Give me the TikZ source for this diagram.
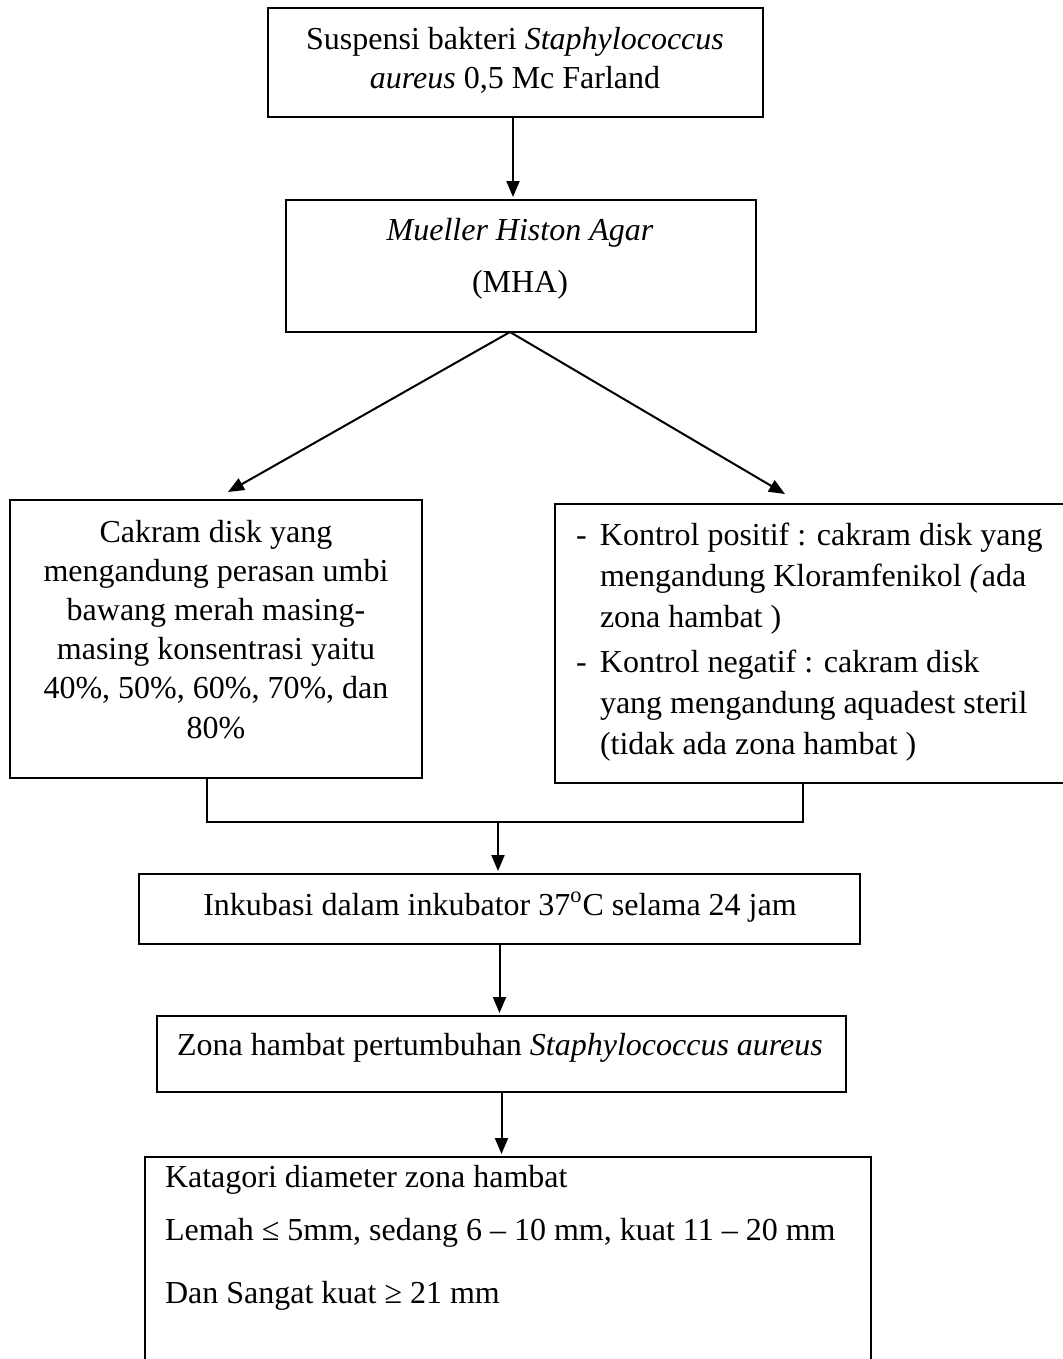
\documentclass[tikz,border=0pt]{standalone}
\usepackage{fontspec}
\setmainfont{Liberation Serif}
\usetikzlibrary{arrows.meta}
\begin{document}
\begin{tikzpicture}[x=0.5pt,y=-0.5pt,
  box/.style={draw,line width=1pt,anchor=north west,inner sep=0pt,outer sep=0pt},
  conn/.style={line width=1pt},
  arr/.style={line width=1pt,-{Triangle[length=8pt,width=6.5pt]},shorten >=1.5pt},
  txt/.style={anchor=base,inner sep=0pt,outer sep=0pt},
  txtl/.style={anchor=base west,inner sep=0pt,outer sep=0pt}]
\useasboundingbox (0,0) rectangle (1063,1359);
\clip (0,0) rectangle (1063,1359);

% boxes
\node[box,minimum width=247.5pt,minimum height=54.5pt] (b1) at (268,8) {};
\node[box,minimum width=235pt,minimum height=66pt] (b2) at (286,200) {};
\node[box,minimum width=206pt,minimum height=139pt] (b3) at (10,500) {};
\node[box,minimum width=257.5pt,minimum height=139.5pt] (b4) at (555,504) {};
\node[box,minimum width=360.5pt,minimum height=35pt] (b5) at (139,874) {};
\node[box,minimum width=344.5pt,minimum height=38pt] (b6) at (157,1016) {};
\node[box,minimum width=363pt,minimum height=110pt] (b7) at (145,1157) {};

% texts
\node[txt] (t1) at (515,50) {\parbox[t]{240pt}{\centering\fontsize{16}{19.5}\selectfont
  Suspensi bakteri \textit{Staphylococcus}\\ \textit{aureus} 0,5 Mc Farland}};
\node[txt] (t2) at (520,240) {\parbox[t]{230pt}{\centering\fontsize{16}{19.5}\selectfont
  \textit{Mueller Histon Agar}\\[6.5pt](MHA)}};
\node[txt] (t3) at (216,542) {\parbox[t]{200pt}{\centering\fontsize{16}{19.6}\selectfont
  Cakram disk yang\\ mengandung perasan umbi\\ bawang merah masing-\\ masing konsentrasi yaitu\\ 40\%, 50\%, 60\%, 70\%, dan\\ 80\%}};
\node[txtl] (t4) at (576,545) {\parbox[t]{240pt}{\raggedright\fontsize{16}{20.5}\selectfont
  \makebox[12pt][l]{-}Kontrol positif : cakram disk yang\\
  \hspace*{12pt}mengandung Kloramfenikol \textit{(}ada\\
  \hspace*{12pt}zona hambat )\\[2pt]
  \makebox[12pt][l]{-}Kontrol negatif : cakram disk\\
  \hspace*{12pt}yang mengandung aquadest steril\\
  \hspace*{12pt}(tidak ada zona hambat )}};
\node[txt,font=\fontsize{16}{19.5}\selectfont] (t5) at (500,915) {Inkubasi dalam inkubator 37\textsuperscript{o}C selama 24 jam};
\node[txt,font=\fontsize{16}{19.5}\selectfont] (t6) at (500,1055) {Zona hambat pertumbuhan \textit{Staphylococcus aureus}};
\node[txtl] (t7) at (165,1187) {\parbox[t]{350pt}{\raggedright\fontsize{16}{20}\selectfont
  Katagori diameter zona hambat\\[6.5pt]
  Lemah ≤ 5mm, sedang 6 – 10 mm, kuat 11 – 20 mm\\[11.5pt]
  Dan Sangat kuat ≥ 21 mm}};

% connectors
\coordinate (p1) at ([xshift=-1.25pt]b1.south);
\draw[arr] (p1) -- (p1 |- b2.north);

\coordinate (p2) at ([xshift=-5.5pt]b2.south);
\draw[arr,shorten >=0pt] (p2) -- ([xshift=6pt,yshift=4pt]b3.north);
\draw[arr,shorten >=0pt] (p2) -- ([xshift=-13.75pt,yshift=5pt]b4.north);

\coordinate (jl) at ([xshift=-4.5pt]b3.south);
\coordinate (jr) at ([xshift=-4.75pt]b4.south);
\draw[conn] (jl) -- ++(0,44) -| (jr);
\coordinate (jm) at (498,822);
\draw[arr] (jm) -- (jm |- b5.north);

\draw[arr] (b5.south) -- (b5.south |- b6.north);
\draw[arr] (b6.south) -- (b6.south |- b7.north);
\end{tikzpicture}
\end{document}
